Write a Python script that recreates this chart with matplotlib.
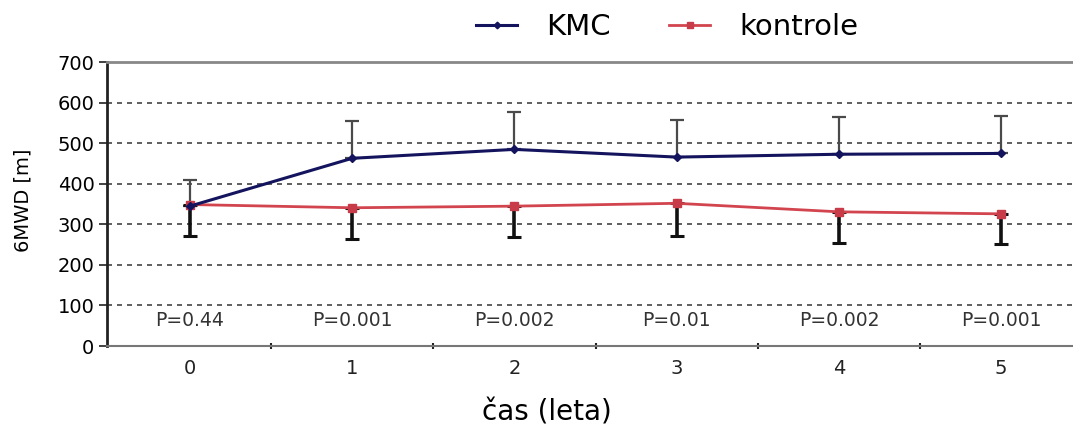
import numpy as np
import matplotlib
matplotlib.use('Agg')
import matplotlib.pyplot as plt
from matplotlib.ticker import FixedLocator

plt.rcParams['font.family'] = ['DejaVu Sans']

# data
years = [0, 1, 2, 3, 4, 5]
kmc_mean = [345, 463, 485, 466, 473, 475]
kmc_upper = [409, 555, 577, 557, 564, 568]      # top of error bar
ctrl_mean = [349, 341, 345, 352, 331, 326]
ctrl_lower = [272, 264, 268, 272, 253, 251]     # bottom of error bar
p_values = ['P=0.44', 'P=0.001', 'P=0.002', 'P=0.01', 'P=0.002', 'P=0.001']

kmc_color = '#14145e'
ctrl_color = '#d2454f'

fig = plt.figure(figsize=(10.73, 4.32), dpi=100)
ax = fig.add_axes((0.0997, 0.199, 0.9003, 0.657))

x = np.array(years)
kmc_err = np.array(kmc_upper) - np.array(kmc_mean)
ctrl_err = np.array(ctrl_mean) - np.array(ctrl_lower)

# error bars: KMC only upwards, kontrole only downwards
ax.errorbar(x, kmc_mean, yerr=[np.zeros_like(kmc_err), kmc_err], fmt='none',
            ecolor='#4a4a4a', elinewidth=1.6, capsize=5, capthick=1.6, zorder=3)
ax.errorbar(x, ctrl_mean, yerr=[ctrl_err, np.zeros_like(ctrl_err)], fmt='none',
            ecolor='#111111', elinewidth=2.6, capsize=5, capthick=2.2, zorder=3)

ax.plot(x, ctrl_mean, color=ctrl_color, lw=2, marker='s', ms=6,
        mfc='#c73c48', mec='#c73c48', label='kontrole', zorder=4)
ax.plot(x, kmc_mean, color=kmc_color, lw=2.2, marker='D', ms=4.5,
        mfc=kmc_color, mec=kmc_color, label='KMC', zorder=5)

for xi, p in zip(x, p_values):
    ax.text(xi, 62, p, ha='center', va='center', fontsize=13.5, color='#333333')

ax.set_xlim(-0.511, 5.443)
ax.set_ylim(0, 700)
ax.set_yticks(range(0, 701, 100))
ax.set_xticks(x)
ax.set_xticklabels([str(v) for v in years], fontsize=14, color='#222222')
ax.xaxis.set_minor_locator(FixedLocator(x[:-1] + 0.5))
ax.tick_params(axis='x', which='major', length=0, pad=9)
ax.tick_params(axis='x', which='minor', length=4, width=1.5, direction='inout', color='#222222')
ax.tick_params(axis='y', length=6, width=1.3, pad=3, labelsize=14, color='#333333')

for yv in range(100, 700, 100):
    ax.axhline(yv, color='#444444', lw=1.2, ls=(0, (3, 3)), zorder=1)

ax.spines['left'].set_linewidth(2)
ax.spines['left'].set_color('#222222')
ax.spines['bottom'].set_linewidth(1.5)
ax.spines['bottom'].set_color('#777777')
ax.spines['top'].set_linewidth(2)
ax.spines['top'].set_color('#888888')
ax.spines['right'].set_visible(False)

fig.text(0.021, 0.537, '6MWD [m]', rotation=90, ha='center', va='center', fontsize=14)
fig.text(0.51, 0.044, 'čas (leta)', ha='center', va='center', fontsize=20)

handles, labels = ax.get_legend_handles_labels()
fig.legend(handles[::-1], labels[::-1], loc='upper center', bbox_to_anchor=(0.622, 1.03),
           ncol=2, frameon=False, fontsize=21, handlelength=1.4, columnspacing=2.0,
           handletextpad=1.0, markerscale=0.75)

fig.savefig('out.png', dpi=100)
